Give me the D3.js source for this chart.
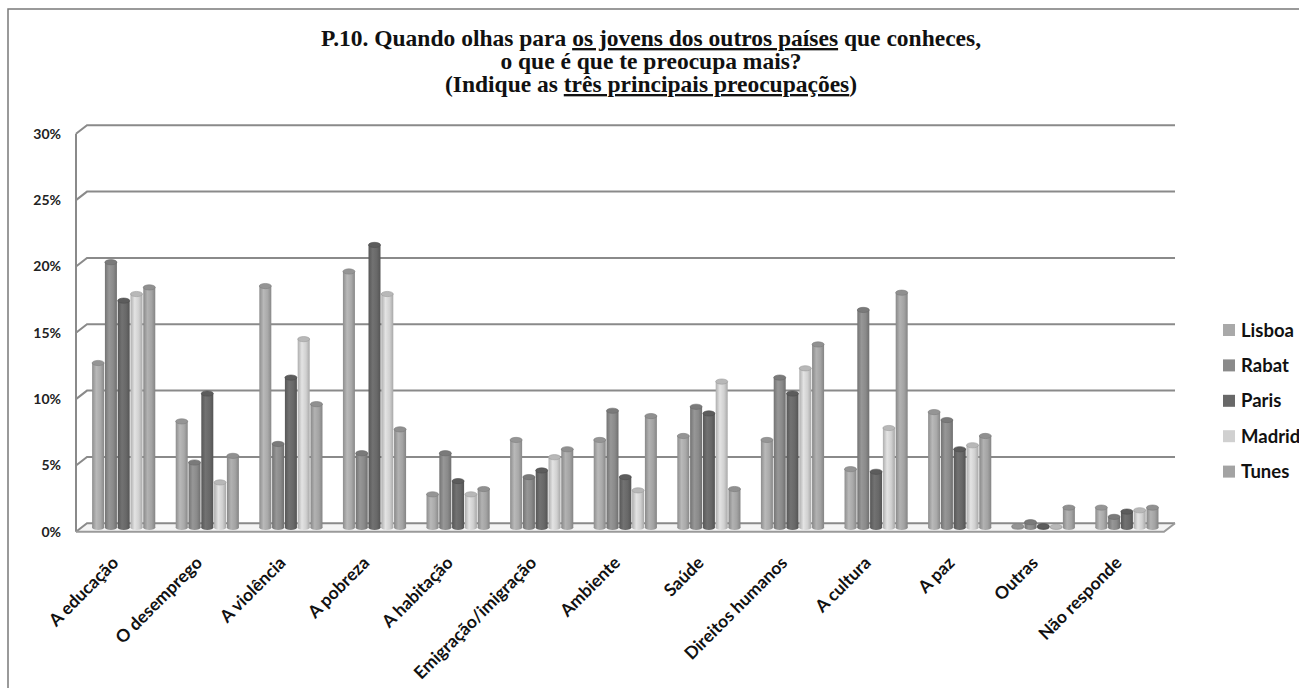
<!DOCTYPE html>
<html><head><meta charset="utf-8">
<script src="https://cdn.jsdelivr.net/npm/d3@7"></script>
<style>
html,body{margin:0;padding:0;background:#fff;}
svg{display:block;}
</style></head>
<body>
<script>
const categories = ["A educação","O desemprego","A violência","A pobreza","A habitação","Emigração/imigração","Ambiente","Saúde","Direitos humanos","A cultura","A paz","Outras","Não responde"];
const seriesNames = ["Lisboa","Rabat","Paris","Madrid","Tunes"];
const lisboa = [12.4, 8.0, 18.2, 19.3, 2.5, 6.6, 6.6, 6.9, 6.6, 4.4, 8.7, 0.1, 1.5];
const rabat  = [20.0, 4.9, 6.3, 5.6, 5.6, 3.8, 8.8, 9.1, 11.3, 16.4, 8.1, 0.4, 0.8];
const paris  = [17.1, 10.1, 11.3, 21.3, 3.5, 4.3, 3.8, 8.6, 10.1, 4.2, 5.9, 0.1, 1.2];
const madrid = [17.6, 3.4, 14.2, 17.6, 2.5, 5.3, 2.8, 11.0, 12.0, 7.5, 6.2, 0.05, 1.3];
const tunes  = [18.1, 5.4, 9.3, 7.4, 2.9, 5.9, 8.4, 2.9, 13.8, 17.7, 6.9, 1.5, 1.5];
const yTicks = [0, 5, 10, 15, 20, 25, 30];
const seriesColors = ["#a9a9a9", "#8a8a8a", "#686868", "#d0d0d0", "#a3a3a3"];

const seriesValues = [lisboa, rabat, paris, madrid, tunes];
const W = 1299, H = 688;
const svg = d3.select("body").append("svg").attr("width", W).attr("height", H);

// frame
svg.append("rect").attr("x", 8).attr("y", 9).attr("width", 1320).attr("height", 720)
  .attr("fill", "#fff").attr("stroke", "#7a7a7a").attr("stroke-width", 1.5);

// title
const title = svg.append("g").style("font-family", "'Liberation Serif', 'Times New Roman', serif")
  .attr("font-weight", "bold").attr("font-size", 23.5).attr("fill", "#111").attr("text-anchor", "middle");
const t1 = title.append("text").attr("x", 651).attr("y", 46);
t1.append("tspan").text("P.10. Quando olhas para ");
t1.append("tspan").style("text-decoration", "underline").text("os jovens dos outros países");
t1.append("tspan").text(" que conheces,");
title.append("text").attr("x", 651).attr("y", 69).text("o que é que te preocupa mais?");
const t3 = title.append("text").attr("x", 651).attr("y", 92);
t3.append("tspan").text("(Indique as ");
t3.append("tspan").style("text-decoration", "underline").text("três principais preocupações");
t3.append("tspan").text(")");

// geometry
const dx = 11, dy = 8.5;
const baseMid = 527.5;
const pxPer = 66.33 / 5;
const y = d3.scaleLinear().domain([0, 30]).range([baseMid, baseMid - 30 * pxPer]);
const yBack = v => y(v) - dy / 2;
const yFront = v => y(v) + dy / 2;
const x = d3.scaleBand().domain(categories).range([81.9, 1168.7]).paddingInner(0.235).paddingOuter(0.1175);
const xs = d3.scaleBand().domain(seriesNames).range([0, x.bandwidth()]).padding(0);
const wallX = 76, backX0 = wallX + dx, backX1 = 1175;

// floor fill
svg.append("path")
  .attr("d", `M${wallX},${yFront(0)} L${backX1 - dx},${yFront(0)} L${backX1},${yBack(0)} L${backX0},${yBack(0)} Z`)
  .attr("fill", "#f4f4f4");

// gridlines
const gridG = svg.append("g");
yTicks.forEach(t => {
  gridG.append("path")
    .attr("d", `M${wallX},${yFront(t)} L${backX0},${yBack(t)} L${backX1},${yBack(t)}`)
    .attr("fill", "none").attr("stroke", "#8a8a8a").attr("stroke-width", 2);
});
gridG.append("line").attr("x1", wallX).attr("x2", wallX).attr("y1", yFront(30)).attr("y2", yFront(0))
  .attr("stroke", "#8a8a8a").attr("stroke-width", 2);
gridG.append("path")
  .attr("d", `M${wallX},${yFront(0)} L${backX1 - dx},${yFront(0)} L${backX1},${yBack(0)}`)
  .attr("fill", "none").attr("stroke", "#9a9a9a").attr("stroke-width", 2);

// y labels
svg.append("g").selectAll("text").data(yTicks).join("text")
  .attr("x", 61).attr("y", d => yFront(d) + 5)
  .attr("text-anchor", "end").style("font-family", "Lato, 'Open Sans', sans-serif")
  .attr("font-weight", "bold").attr("font-size", 14).attr("fill", "#222")
  .text(d => d + "%");

// gradients
const defs = svg.append("defs");
seriesColors.forEach((c, i) => {
  const g = defs.append("linearGradient").attr("id", "grad" + i).attr("x1", "0%").attr("x2", "100%");
  const cc = d3.color(c);
  g.append("stop").attr("offset", "0%").attr("stop-color", cc.darker(0.5));
  g.append("stop").attr("offset", "35%").attr("stop-color", cc.brighter(0.25));
  g.append("stop").attr("offset", "70%").attr("stop-color", c);
  g.append("stop").attr("offset", "100%").attr("stop-color", cc.darker(0.6));
});

// bars
const barsG = svg.append("g");
const ry = 2.6;
categories.forEach((cat, ci) => {
  seriesNames.forEach((s, si) => {
    const v = seriesValues[si][ci];
    const bx = x(cat) + xs(s) + 0.4;
    const bw = xs.bandwidth() - 0.8;
    const top = y(v);
    const g = barsG.append("g");
    g.append("ellipse").attr("cx", bx + bw / 2).attr("cy", baseMid).attr("rx", bw / 2).attr("ry", ry)
      .attr("fill", `url(#grad${si})`);
    g.append("rect").attr("x", bx).attr("y", top).attr("width", bw).attr("height", Math.max(0, baseMid - top))
      .attr("fill", `url(#grad${si})`);
    g.append("ellipse").attr("cx", bx + bw / 2).attr("cy", top).attr("rx", bw / 2).attr("ry", ry)
      .attr("fill", d3.color(seriesColors[si]).darker(0.35)).attr("stroke", d3.color(seriesColors[si]).darker(0.8)).attr("stroke-width", 0.6);
  });
});

// x labels
svg.append("g").selectAll("text").data(categories).join("text")
  .attr("transform", d => `translate(${x(d) + x.bandwidth() / 2 - 4},${564}) rotate(-45)`)
  .attr("text-anchor", "end").style("font-family", "Lato, 'Open Sans', sans-serif")
  .attr("font-weight", "bold").attr("font-size", 17.5).attr("fill", "#111")
  .text(d => d);

// legend
const leg = svg.append("g");
seriesNames.forEach((s, i) => {
  const ly = 330 + i * 35.4;
  leg.append("rect").attr("x", 1223).attr("y", ly - 6).attr("width", 12).attr("height", 12).attr("fill", seriesColors[i]);
  leg.append("text").attr("x", 1241).attr("y", ly + 6.5).style("font-family", "Lato, 'Open Sans', sans-serif")
    .attr("font-weight", "bold").attr("font-size", 18.5).attr("fill", "#111").text(s);
});
</script>
</body></html>
